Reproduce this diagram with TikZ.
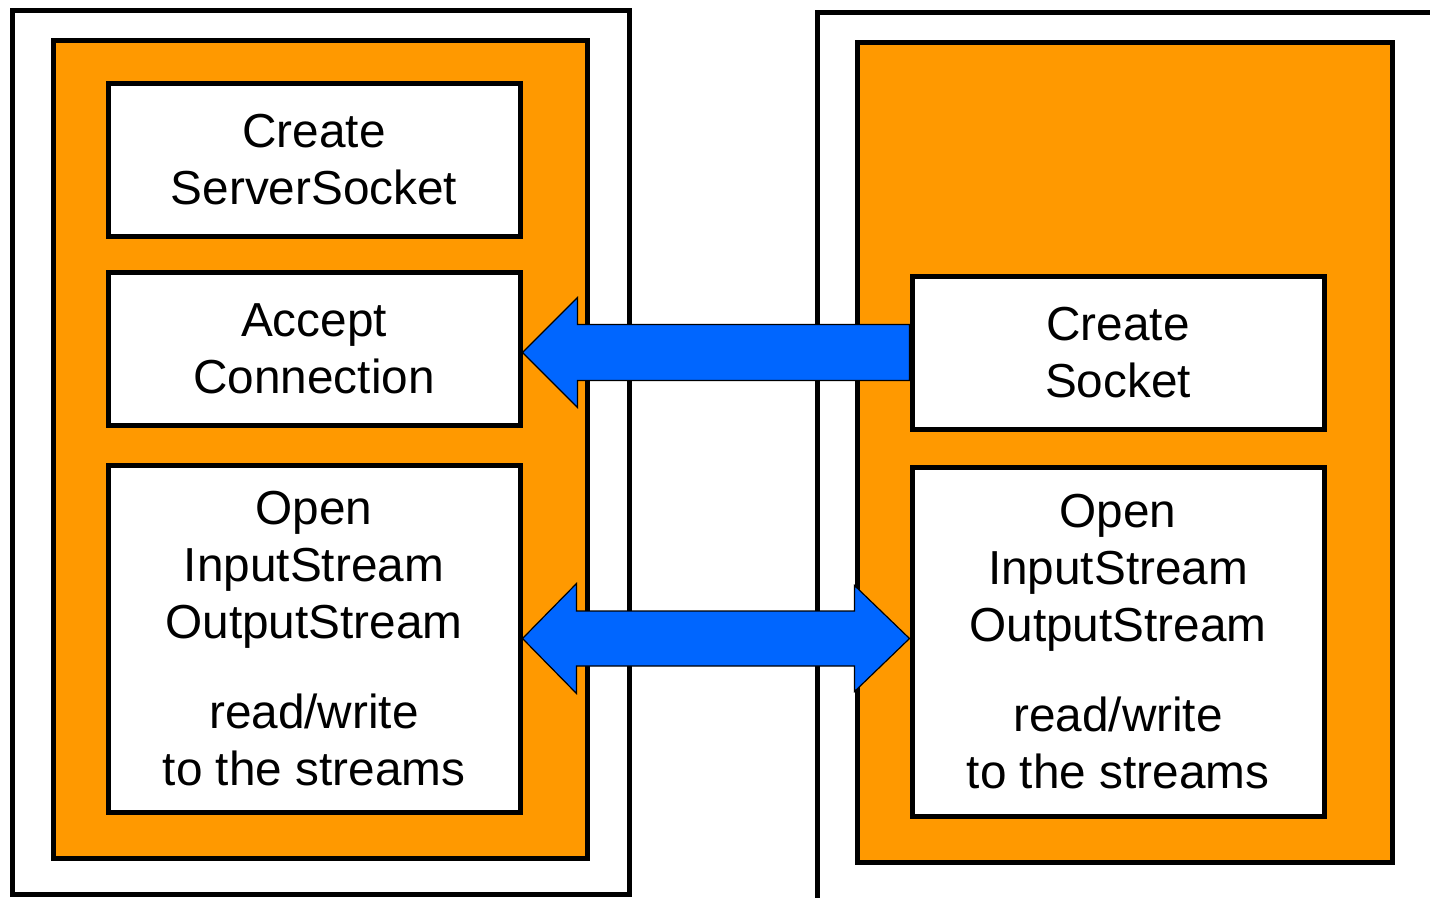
\documentclass[tikz,border=0pt]{standalone}
\usepackage{fontspec}
\setmainfont{Liberation Sans}
\usetikzlibrary{calc}
\definecolor{panelorange}{HTML}{FF9900}
\definecolor{arrowblue}{HTML}{0066FF}
\pgfdeclarelayer{back}
\pgfdeclarelayer{mid}
\pgfsetlayers{back,mid,main}

\begin{document}
\begin{tikzpicture}[x=0.75pt,y=-0.75pt,
  heavyline/.style={line width=3.75pt},
  panel/.style={heavyline, draw=black, fill=panelorange},
  stepbox/.style={draw=black, fill=white, line width=3.75pt,
    minimum width=309pt, inner sep=0pt, align=center,
    font=\fontsize{35.8}{43}\selectfont},
  blockarrow/.style={fill=arrowblue, draw=black, line width=0.9pt, line join=miter}]
\useasboundingbox (0,0) rectangle (1430,897);
\clip (0,0) rectangle (1430,897);

% frames and orange panels
\begin{pgfonlayer}{back}
  \draw[heavyline] (12,10) rectangle (629,894);
  \draw[panel] (53,40) rectangle (587,858);
  \draw[heavyline] (817,910) -- (817,12) -- (1445,12);
  \draw[panel] (857,42) rectangle (1392,862);
\end{pgfonlayer}

% server side steps
\node[stepbox, minimum height=114.75pt] (create) at (314,159.5) {Create\\ServerSocket};
\node[stepbox, minimum height=114.75pt] (accept) at (314,348.5) {Accept\\Connection};
\node[stepbox, minimum height=260.25pt] (lopen) at (314,638.5)
  {Open\\InputStream\\OutputStream\\[24pt]read/write\\to the streams};

% client side steps
\node[stepbox, minimum height=114.75pt] (socket) at (1118,352.5) {Create\\Socket};
\node[stepbox, minimum height=261.75pt] (ropen) at (1118,641.5)
  {Open\\InputStream\\OutputStream\\[24pt]read/write\\to the streams};

% block arrows
\begin{pgfonlayer}{mid}
  % connection request
  \coordinate (t1) at (accept.east |- socket.west);
  \coordinate (e1) at (socket.west);
  \draw[blockarrow] (t1) -- ($(t1)+(55,-55)$) -- ($(t1)+(55,-28)$)
    -- ($(e1)+(0,-28)$) -- ($(e1)+(0,28)$)
    -- ($(t1)+(55,28)$) -- ($(t1)+(55,55)$) -- cycle;
  % stream exchange
  \coordinate (t2) at (lopen.east);
  \coordinate (t3) at (ropen.west |- lopen.east);
  \draw[blockarrow] (t2) -- ($(t2)+(54,-55)$) -- ($(t2)+(54,-27.5)$)
    -- ($(t3)+(-55,-27.5)$) -- ($(t3)+(-55,-53)$) -- (t3)
    -- ($(t3)+(-55,53)$) -- ($(t3)+(-55,27.5)$)
    -- ($(t2)+(54,27.5)$) -- ($(t2)+(54,55)$) -- cycle;
\end{pgfonlayer}
\end{tikzpicture}
\end{document}
